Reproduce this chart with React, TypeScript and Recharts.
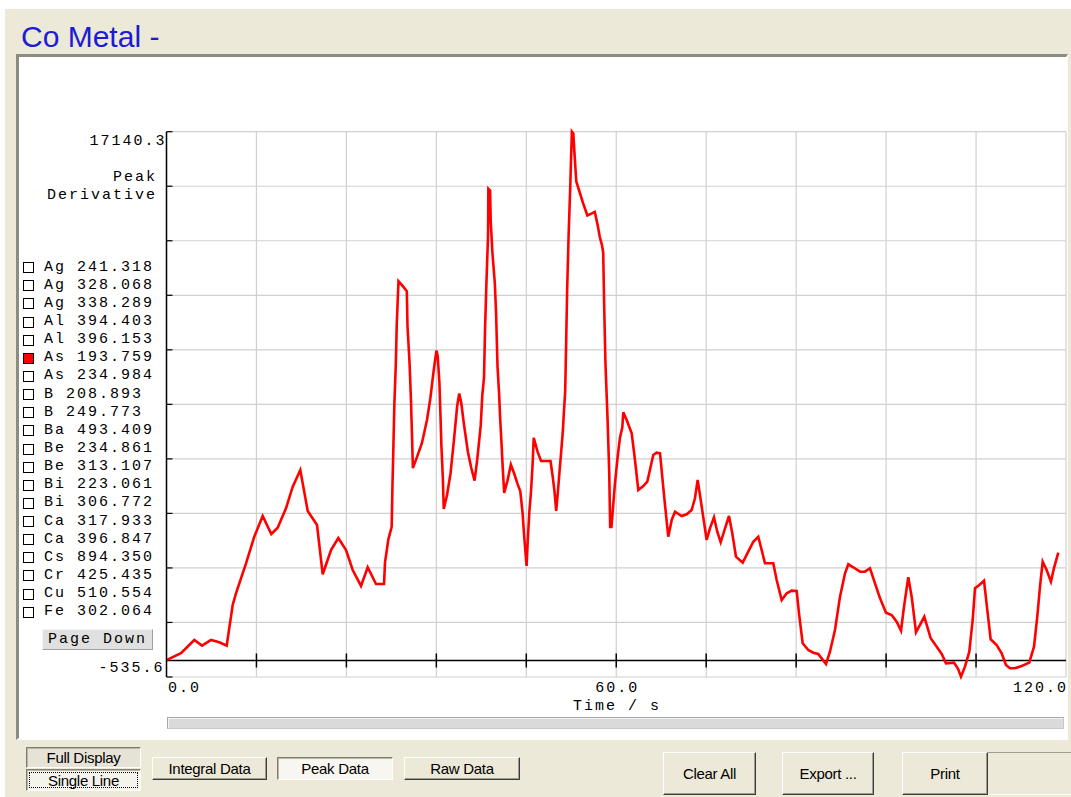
import { CartesianGrid, Line, LineChart, ReferenceLine, XAxis, YAxis } from "recharts";

// time (s) of each sample
const times = [
  0.0, 1.93, 3.71, 4.74, 5.94, 7.04, 8.03, 8.83, 9.27, 10.61, 11.71, 12.83, 13.98, 14.83, 15.94, 16.84,
  17.85, 18.84, 20.08, 20.84, 21.95, 22.92, 23.95, 24.84, 25.95, 26.84, 27.95, 29.02, 29.15, 29.6, 30.04,
  30.14, 30.27, 30.4, 30.59, 30.72, 30.95, 31.39, 32.06, 32.15, 32.42, 32.6, 32.74, 32.87, 33.4, 34.07,
  34.75, 35.19, 35.65, 36.01, 36.18, 36.41, 36.54, 36.67, 36.86, 36.99, 37.43, 37.89, 38.33, 38.78, 39.05,
  39.31, 39.67, 40.21, 40.66, 41.1, 41.46, 41.92, 42.13, 42.36, 42.49, 42.68, 42.9, 42.94, 43.17, 43.25,
  43.48, 43.8, 43.97, 44.16, 44.37, 44.5, 44.69, 44.86, 45.05, 45.49, 45.94, 46.38, 46.84, 47.2, 47.5,
  47.73, 48.04, 48.19, 48.4, 48.63, 48.85, 48.99, 49.52, 49.97, 51.23, 51.53, 51.76, 51.99, 52.22, 52.43,
  52.65, 52.88, 53.01, 53.19, 53.32, 53.45, 53.64, 53.87, 54.08, 54.27, 54.44, 54.67, 55.12, 55.56, 56.15,
  56.68, 57.14, 57.5, 57.8, 58.11, 58.26, 58.39, 58.56, 58.83, 59.06, 59.19, 59.36, 59.59, 59.82, 60.18,
  60.49, 60.81, 60.94, 61.39, 62.06, 62.5, 62.94, 63.61, 64.14, 64.94, 65.39, 65.84, 66.37, 66.94, 67.4,
  67.84, 68.73, 69.4, 70.06, 70.5, 70.86, 71.17, 71.53, 72.06, 72.5, 73.04, 73.48, 73.93, 74.51, 75.04,
  75.48, 75.97, 76.87, 77.61, 78.28, 78.95, 79.4, 79.84, 80.95, 81.4, 82.07, 82.74, 83.4, 84.07, 84.38,
  84.87, 85.62, 86.29, 86.95, 87.98, 88.51, 89.18, 89.85, 90.52, 90.96, 91.62, 92.52, 93.18, 93.85, 94.52,
  95.19, 95.99, 96.74, 97.41, 97.99, 98.39, 98.96, 99.41, 99.99, 100.52, 101.09, 101.49, 101.95, 102.75,
  103.42, 103.99, 105.06, 105.63, 105.99, 106.52, 107.1, 107.55, 107.86, 108.43, 109.06, 109.5, 109.95,
  110.75, 111.42, 111.99, 112.53, 113.19, 114.09, 115.1, 115.73, 116.17, 116.53, 116.89, 117.42, 117.99,
  118.39, 118.97,
];

// As 193.759 peak derivative
const peakDerivative = [
  10, 233, 664, 480, 664, 590, 480, 1799, 2178, 3150, 4012, 4683, 4100, 4304, 4933, 5633,
  6174, 4845, 4392, 2794, 3581, 3970, 3581, 2933, 2415, 3021, 2479, 2479, 3176, 3928, 4330,
  5600, 6926, 8313, 9580, 10906, 12293, 12176, 11969, 10851, 9661, 8540, 7389, 6236, 6583, 7043,
  7795, 8485, 9409, 10044, 9869, 9003, 8021, 6984, 5947, 4910, 5370, 6061, 7101, 8255, 8657,
  8368, 7678, 6757, 6239, 5831, 6524, 7620, 8602, 9179, 10679, 12235, 13794, 15291, 15236, 14254,
  13217, 12235, 11253, 9522, 8657, 7908, 7043, 6236, 5429, 5831, 6349, 6061, 5717, 5484, 4793,
  3986, 3063, 3870, 4793, 5484, 6407, 7214, 6754, 6466, 6466, 5947, 5484, 4852, 5484, 6119,
  6754, 7448, 8025, 8718, 10332, 12008, 13735, 15408, 17140, 17080, 16390, 15524, 15178, 14831, 14426,
  14484, 14542, 14137, 13735, 13447, 13217, 11486, 9639, 7908, 6119, 4330, 4330, 5024, 5717, 6583,
  7214, 7561, 8044, 7795, 7364, 6498, 5526, 5655, 5795, 6660, 6735, 6715, 5364, 4012, 4554,
  4823, 4683, 4738, 4878, 5257, 5850, 5364, 4771, 3905, 4285, 4641, 4174, 3831, 4285, 4683,
  4123, 3364, 3170, 3526, 3850, 4012, 3581, 3150, 3150, 2609, 1961, 2178, 2262, 2252, 1530,
  557, 340, 253, 211, -113, 285, 989, 2068, 2826, 3118, 3021, 2878, 2878, 2988, 2502,
  2016, 1549, 1475, 1258, 966, 1744, 2697, 2068, 914, 1151, 1420, 1095, 720, 447,
  211, -91, -71, -285, -525, -201, 285, 1313, 2340, 2447, 2586, 1637, 687,
  502, 233, -146, -253, -253, -178, -71, 447, 1420, 2392, 3202, 2933, 2554,
  2988, 3494,
];

const xTicks = [0, 12, 24, 36, 48, 60, 72, 84, 96, 108, 120];
const xLabels: Record<number, string> = { 0: "0.0", 60: "60.0", 120: "120.0" };
const yTicks = [
  -535.6, 1231.99, 2999.58, 4767.17, 6534.76, 8302.35, 10069.94, 11837.53, 13605.12, 15372.71, 17140.3,
];
const yMin = -535.6;
const yMax = 17140.3;

const elements = [
  "Ag 241.318", "Ag 328.068", "Ag 338.289", "Al 394.403", "Al 396.153", "As 193.759", "As 234.984",
  "B 208.893", "B 249.773", "Ba 493.409", "Be 234.861", "Be 313.107", "Bi 223.061", "Bi 306.772",
  "Ca 317.933", "Ca 396.847", "Cs 894.350", "Cr 425.435", "Cu 510.554", "Fe 302.064",
];
const selectedElement = "As 193.759";

const data = times.map((t, i) => ({ t, v: peakDerivative[i] }));

const mono = '"Liberation Mono", "DejaVu Sans Mono", monospace';
const sans = '"Liberation Sans", Arial, sans-serif';
const beige = "#ece9d8";

function YTick(props: any) {
  const { x, y, payload } = props;
  const v = payload.value;
  return (
    <g>
      <line x1={x} x2={x + 6} y1={y} y2={y} stroke="#000" strokeWidth={1.2} />
      {v === yMax && (
        <text x={x} y={y + 10} textAnchor="end" dominantBaseline="central"
          fontFamily={mono} fontSize={15} letterSpacing={2} fill="#000">17140.3</text>
      )}
      {v === yMin && (
        <text x={x - 2} y={y - 9} textAnchor="end" dominantBaseline="central"
          fontFamily={mono} fontSize={15} letterSpacing={2} fill="#000">-535.6</text>
      )}
    </g>
  );
}

function XTick(props: any) {
  const { x, y, payload } = props;
  const label = xLabels[payload.value];
  if (!label) return <g />;
  const anchor = payload.value === 0 ? "start" : payload.value === 120 ? "end" : "middle";
  const dx = payload.value === 0 ? 1.5 : payload.value === 120 ? 2 : 1;
  return (
    <text x={x + dx} y={y + 11} textAnchor={anchor} dominantBaseline="central"
      fontFamily={mono} fontSize={15} letterSpacing={2} fill="#000">{label}</text>
  );
}

interface BtnProps {
  left: number;
  top: number;
  width: number;
  height: number;
  label: string;
  pressed?: boolean;
  focus?: boolean;
  bg?: string;
}

function WinButton({ left, top, width, height, label, pressed, focus, bg }: BtnProps) {
  return (
    <div
      style={{
        position: "absolute", left, top, width, height, boxSizing: "border-box",
        background: bg ?? (pressed ? "#f7f6f1" : beige),
        borderStyle: "solid", borderWidth: 1,
        borderColor: pressed ? "#7f7d72 #ffffff #ffffff #7f7d72" : "#ffffff #3c3c3c #3c3c3c #ffffff",
        boxShadow: pressed ? "inset 1px 1px #b8b5a6" : "inset -1px -1px #a09d8e",
        display: "flex", alignItems: "center", justifyContent: "center",
        fontFamily: sans, fontSize: 15, color: "#000", letterSpacing: -0.3,
      }}
    >
      {focus && (
        <div style={{ position: "absolute", left: 2, top: 2, right: 2, bottom: 2, border: "1px dotted #000" }} />
      )}
      {label}
    </div>
  );
}

export default function App() {
  return (
    <div style={{ position: "absolute", left: 0, top: 0, width: 1071, height: 797, background: "#fff", overflow: "hidden" }}>
      <div style={{ position: "absolute", left: 5, top: 9, right: 0, bottom: 0, background: beige }} />

      {/* title */}
      <div style={{ position: "absolute", left: 21, top: 19, fontFamily: sans, fontSize: 30, color: "#1c1cd4", lineHeight: "36px" }}>
        Co Metal -
      </div>

      {/* white chart panel */}
      <div
        style={{
          position: "absolute", left: 16, top: 54, width: 1052, height: 686, boxSizing: "border-box",
          background: "#fff", borderStyle: "solid", borderWidth: "3px 2px 2px 3px",
          borderColor: "#8e8c82 #ffffff #ffffff #8e8c82",
        }}
      />

      <div style={{ position: "absolute", left: 0, top: 0 }}>
        <LineChart width={1071} height={797} data={data}
          margin={{ top: 131.7, right: 5, bottom: 100, left: 146.5 }}>
          <CartesianGrid stroke="#d0d0d0" strokeWidth={1.2} />
          <XAxis dataKey="t" type="number" domain={[0, 120]} ticks={xTicks} height={20}
            axisLine={false} tickLine={false} tickSize={0} tickMargin={0} tick={XTick} interval={0} />
          <YAxis type="number" domain={[yMin, yMax]} ticks={yTicks} width={20} interval={0}
            axisLine={{ stroke: "#000", strokeWidth: 1.5 }} tickLine={false} tickSize={0} tickMargin={0} tick={YTick} />
          <ReferenceLine y={0} stroke="#000" strokeWidth={1.5} />
          {xTicks.slice(1, -1).map((t) => (
            <ReferenceLine key={t} segment={[{ x: t, y: -227 }, { x: t, y: 227 }]} stroke="#000" strokeWidth={1.5} />
          ))}
          <Line type="linear" dataKey="v" stroke="#ff0000" strokeWidth={2.6} dot={false} isAnimationActive={false} />
        </LineChart>
      </div>

      <div style={{ position: "absolute", left: 572, top: 698, width: 90, textAlign: "center", fontFamily: mono, fontSize: 15, letterSpacing: 2, lineHeight: "18px" }}>
        Time / s
      </div>

      {/* y axis title */}
      <div style={{ position: "absolute", right: 1071 - 157, top: 169, textAlign: "right", fontFamily: mono, fontSize: 15, letterSpacing: 2, lineHeight: "18px" }}>
        Peak<br />Derivative
      </div>

      {/* element list */}
      {elements.map((name, i) => {
        const cy = 267.6 + i * 18.14;
        const on = name === selectedElement;
        return (
          <div key={name}>
            <div style={{ position: "absolute", left: 23, top: cy - 5.5, width: 11, height: 11, boxSizing: "border-box", border: "1px solid #000", background: on ? "#ff0000" : "#fff" }} />
            <div style={{ position: "absolute", left: 44, top: cy - 9, height: 18, lineHeight: "18px", whiteSpace: "pre", fontFamily: mono, fontSize: 15, letterSpacing: 2 }}>
              {name}
            </div>
          </div>
        );
      })}

      <div style={{ position: "absolute", left: 42, top: 629, width: 111, height: 21, boxSizing: "border-box", background: "#e0e0e0", borderStyle: "solid", borderWidth: 1, borderColor: "#f4f4f4 #a0a0a0 #a0a0a0 #f4f4f4", display: "flex", alignItems: "center", justifyContent: "center", fontFamily: mono, fontSize: 15, letterSpacing: 2 }}>
        Page Down
      </div>

      {/* horizontal scroll bar */}
      <div style={{ position: "absolute", left: 167, top: 717, width: 897, height: 12, boxSizing: "border-box", background: "#dadada", borderStyle: "solid", borderWidth: 1, borderColor: "#a8a8a8 #c8c8c8 #c8c8c8 #a8a8a8", boxShadow: "inset 1px 1px #f4f4f4" }} />

      {/* bottom buttons */}
      <WinButton left={26} top={747} width={115} height={21} label="Full Display" pressed bg="#e6e3d6" />
      <WinButton left={26} top={769} width={115} height={22} label="Single Line" pressed focus bg="#f4f3ec" />
      <WinButton left={152} top={757} width={115} height={23} label="Integral Data" />
      <WinButton left={277} top={757} width={116} height={23} label="Peak Data" pressed />
      <WinButton left={404} top={757} width={116} height={23} label="Raw Data" />
      <WinButton left={663} top={752} width={93} height={43} label="Clear All" />
      <WinButton left={782} top={752} width={92} height={43} label="Export ..." />
      <WinButton left={902} top={752} width={86} height={43} label="Print" />
      <div style={{ position: "absolute", left: 988, top: 752, width: 83, height: 43, boxSizing: "border-box", background: beige, borderTop: "1px solid #a09d8e", borderBottom: "1px solid #ffffff" }} />
    </div>
  );
}
